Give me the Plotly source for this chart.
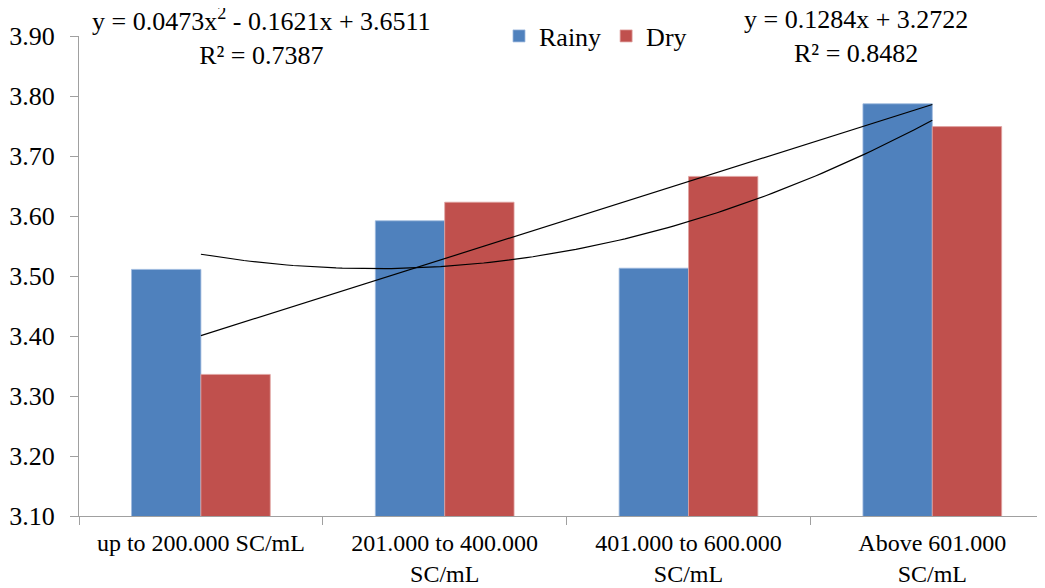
import numpy as np
import plotly.graph_objects as go

categories = ["up to 200.000 SC/mL", "201.000 to 400.000<br>SC/mL",
              "401.000 to 600.000<br>SC/mL", "Above 601.000<br>SC/mL"]
rainy = [3.511, 3.592, 3.513, 3.787]
dry = [3.336, 3.623, 3.666, 3.749]
poly_coef = [0.0473, -0.1621, 3.6511]   # Rainy polynomial trend (x = 1..4)
lin_coef = [0.1284, 3.2722]             # Dry linear trend
y_ticks = [3.10, 3.20, 3.30, 3.40, 3.50, 3.60, 3.70, 3.80, 3.90]

FONT = "Liberation Serif, Times New Roman, serif"
FS = 26
fig = go.Figure()
fig.add_trace(go.Bar(x=categories, y=rainy, name="Rainy", marker_color="#4F81BD",
                     marker_line=dict(color="#9DB9DE", width=0.8)))
fig.add_trace(go.Bar(x=categories, y=dry, name="Dry", marker_color="#C0504D",
                     marker_line=dict(color="#E0A3A1", width=0.8)))

xs = np.linspace(1, 4, 120)
fig.add_trace(go.Scatter(x=xs - 1, y=np.polyval(poly_coef, xs), mode="lines",
                         line=dict(color="black", width=1.2), showlegend=False,
                         xaxis="x2", hoverinfo="skip"))
xl = np.array([1, 4])
fig.add_trace(go.Scatter(x=xl - 1, y=np.polyval(lin_coef, xl), mode="lines",
                         line=dict(color="black", width=1.2), showlegend=False,
                         xaxis="x2", hoverinfo="skip"))

OFF = 8              # page body margin offset
L, T = 79 - OFF, 36 - OFF
W = 1045 - L
CAT = 243.8
xr = [-0.5, -0.5 + W / CAT]
fig.update_layout(
    width=1045, height=588,
    margin=dict(l=L, r=0, t=T, b=588 - T - 480, autoexpand=False),
    paper_bgcolor="white", plot_bgcolor="white",
    font=dict(family=FONT, size=FS, color="black"),
    barmode="group", bargap=0.431, bargroupgap=0,
    xaxis=dict(type="category", range=xr, showline=True, linecolor="#A0A0A0", linewidth=1.3,
               ticks="outside", tickson="boundaries", ticklen=8, tickcolor="#A0A0A0",
               showgrid=False, automargin=False, ticklabelstandoff=5,
               tickfont=dict(family=FONT, size=24)),
    xaxis2=dict(range=xr, overlaying="x", visible=False),
    yaxis=dict(range=[3.10, 3.90], tickvals=y_ticks, tickformat=".2f", showline=True,
               linecolor="#A0A0A0", linewidth=1.3, ticks="outside", ticklen=8,
               tickcolor="#A0A0A0", showgrid=False, zeroline=False, automargin=False,
               ticklabelstandoff=10, tickfont=dict(family=FONT, size=FS)),
    legend=dict(orientation="h", x=(505 - OFF - 14 + 8 - L) / W, y=1.0,
                xanchor="left", yanchor="middle",
                font=dict(family=FONT, size=FS), itemwidth=30, bgcolor="rgba(0,0,0,0)"),
    showlegend=True,
)
fig.add_annotation(xref="paper", yref="paper", x=(261 - OFF - L) / W, y=1.0,
                   xanchor="center", yanchor="middle",
                   text="y = 0.0473x<sup>2</sup> - 0.1621x + 3.6511<br>R² = 0.7387",
                   showarrow=False, font=dict(family=FONT, size=FS), align="center")
fig.add_annotation(xref="paper", yref="paper", x=(856 - OFF - L) / W, y=1.0,
                   xanchor="center", yanchor="middle",
                   text="y = 0.1284x + 3.2722<br>R² = 0.8482",
                   showarrow=False, font=dict(family=FONT, size=FS), align="center")
fig.write_html("out.html")
